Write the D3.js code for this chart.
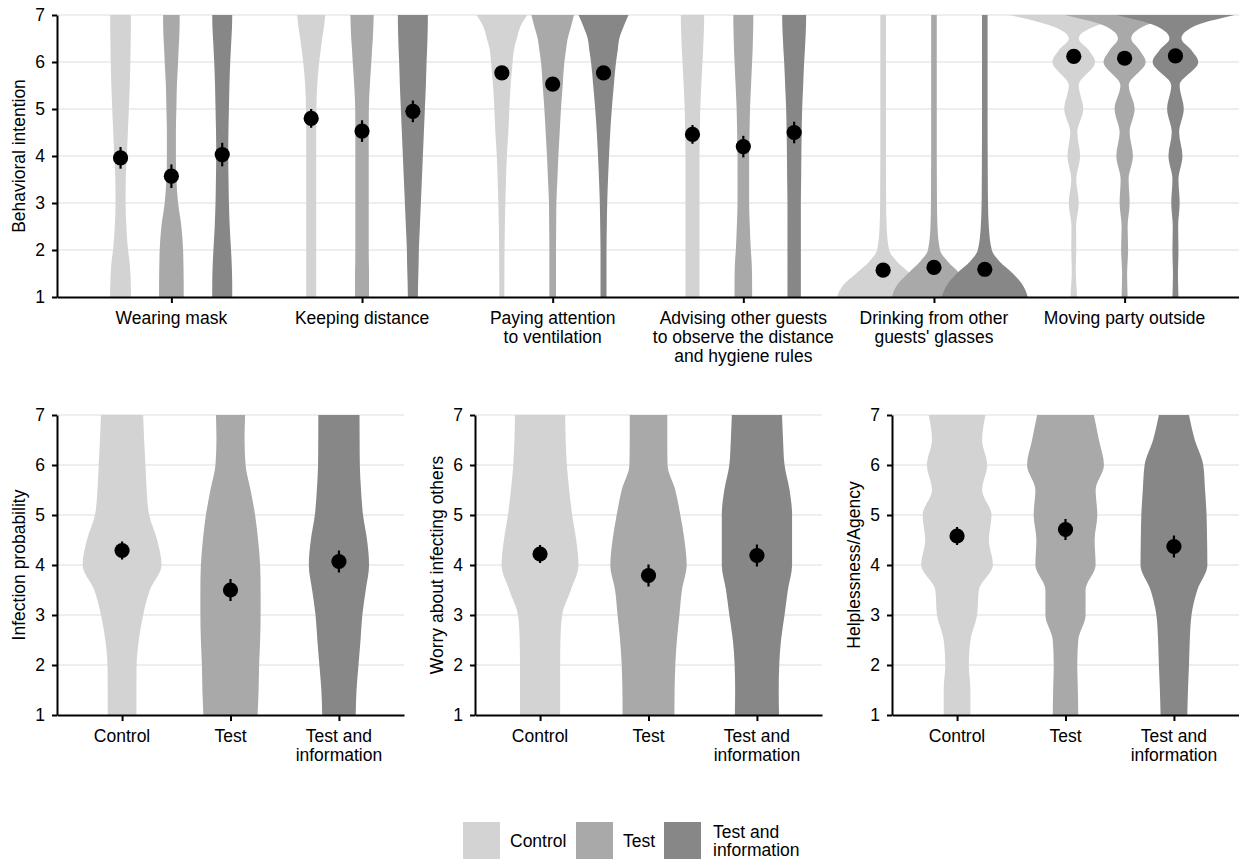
<!DOCTYPE html>
<html><head><meta charset="utf-8">
<script src="https://cdn.jsdelivr.net/npm/d3@7"></script>
<style>
body{margin:0;background:#fff;}
svg text{font-family:"Liberation Sans",Arial,Helvetica,sans-serif;fill:#000;}
</style>
</head><body>
<svg id="chart" width="1239" height="859"></svg>
<script>
// ---------- DATA ----------
const groups = ["Control", "Test", "Test and information"];
const groupColors = ["#d3d3d3", "#a9a9a9", "#878787"];
const groupLabels = [["Control"], ["Test"], ["Test and", "information"]];
const yTicks = [1, 2, 3, 4, 5, 6, 7];

const behaviors = ["Wearing mask", "Keeping distance", "Paying attention to ventilation",
  "Advising other guests to observe the distance and hygiene rules",
  "Drinking from other guests' glasses", "Moving party outside"];
const behaviorLabels = [["Wearing mask"], ["Keeping distance"], ["Paying attention", "to ventilation"],
  ["Advising other guests", "to observe the distance", "and hygiene rules"],
  ["Drinking from other", "guests' glasses"], ["Moving party outside"]];
const behaviorTitle = "Behavioral intention";
// means per behavior: [Control, Test, Test and information]
const behaviorMeans = [[3.96, 3.57, 4.03], [4.80, 4.53, 4.95], [5.77, 5.53, 5.77],
  [4.46, 4.20, 4.50], [1.57, 1.63, 1.59], [6.12, 6.08, 6.13]];
const behaviorCI = [[0.23, 0.25, 0.25], [0.20, 0.23, 0.23], [0.14, 0.14, 0.14],
  [0.20, 0.23, 0.23], [0.12, 0.12, 0.12], [0.12, 0.12, 0.12]];
// violin density (relative width) evaluated at these rating values
const densityGridTop = [1, 1.25, 1.5, 1.75, 2, 2.5, 3, 3.5, 4, 4.5, 5, 5.5, 6, 6.25, 6.5, 6.75, 7];
const densityWearingMask = [
  [10.5, 10.3, 9.8, 9, 7.5, 5.8, 5, 5.2, 6.3, 7.3, 8.3, 9.2, 9.8, 10, 10.2, 10.3, 10.3],
  [12.3, 12.3, 12.2, 12, 11.7, 10, 6.7, 5, 4.5, 4.5, 5, 5.5, 6.7, 7.2, 7.8, 8.2, 8.3],
  [10, 10, 9.8, 9.4, 8.8, 7.5, 6.7, 6.3, 6, 6.2, 6.7, 7.2, 8, 8.6, 9.2, 9.8, 10]];
const densityKeepingDistance = [
  [5, 5, 5, 5, 5, 5, 5, 5, 5, 5, 5.2, 6, 8, 9.5, 11, 12.8, 14],
  [7, 7, 7, 6.8, 6.7, 6.7, 6.7, 6.7, 6.7, 6.7, 6.8, 7.8, 9.3, 10, 10.8, 11.3, 11.7],
  [5, 5.2, 5.5, 5.8, 6, 7, 8, 9, 10, 11, 12, 13, 13.7, 14.2, 14.6, 14.9, 15]];
const densityVentilation = [
  [2.5, 2.5, 2.6, 2.6, 2.7, 3, 3.5, 4.2, 5, 6.5, 7.5, 8.8, 10.8, 12, 15, 18.5, 25.3],
  [3.3, 3.3, 3.3, 3.3, 3.3, 3.5, 3.7, 4.7, 5.7, 7, 8.3, 10, 11.7, 13.3, 15, 18.3, 21.3],
  [3, 3, 3, 3, 3, 3.3, 3.7, 4.5, 5.5, 6.7, 8.3, 10.3, 12.5, 14.2, 15.8, 20, 25]];
const densityAdvising = [
  [7, 7, 7, 7, 7, 7, 7, 7, 7, 7.3, 7.8, 8.8, 10, 10.6, 11.1, 11.5, 11.7],
  [8.8, 8.8, 8.7, 8.3, 7.5, 6.5, 5.8, 5.8, 5.8, 6.2, 6.7, 7.7, 8.8, 9.3, 9.6, 9.9, 10],
  [6.7, 6.7, 6.7, 6.7, 6.7, 6.7, 6.7, 7, 7.2, 7.5, 8, 9, 10, 10.7, 11.3, 11.8, 12]];
const densityDrinking = [
  [46, 40, 27, 14, 6, 3.5, 3, 2.9, 2.8, 2.8, 2.8, 2.8, 2.8, 2.8, 2.8, 2.8, 2.8],
  [42, 37, 26, 14, 6, 3.5, 3, 2.9, 2.8, 2.8, 2.8, 2.8, 2.8, 2.8, 2.8, 2.8, 2.8],
  [43, 38, 28, 15, 7, 4, 3.2, 3, 2.9, 2.8, 2.8, 2.8, 2.8, 2.8, 2.8, 2.8, 2.8]];
const densityOutside = [
  [3.3, 2.6, 2, 2.2, 2.5, 2.3, 5, 2.5, 6.3, 3.5, 9.5, 5, 21.3, 15, 5, 20, 64],
  [3, 2.7, 2.5, 3, 3.5, 3, 5, 4, 8.3, 5, 10, 4.2, 21, 15, 6.7, 18, 60],
  [3, 2.7, 2.5, 2.8, 3, 2.7, 4.2, 3, 7, 3.7, 8.3, 4.2, 22.8, 16, 6, 17.7, 59]];
const behaviorDensity = [densityWearingMask, densityKeepingDistance, densityVentilation,
  densityAdvising, densityDrinking, densityOutside];

const outcomes = ["Infection probability", "Worry about infecting others", "Helplessness/Agency"];
const outcomeMeans = [[4.29, 3.50, 4.07], [4.22, 3.79, 4.19], [4.58, 4.71, 4.37]];
const outcomeCI = [[0.18, 0.22, 0.22], [0.18, 0.22, 0.22], [0.18, 0.21, 0.22]];
const densityGridBottom = [1, 1.5, 2, 2.5, 3, 3.5, 4, 4.5, 5, 5.5, 6, 6.5, 7];
const densityInfection = [
  [14.3, 14.3, 14.5, 16.7, 21, 27.7, 39.3, 35, 27, 24.5, 23.3, 22, 21],
  [27, 28, 28.5, 29.5, 30, 30, 29.5, 27.5, 24.5, 20, 15, 14, 14.5],
  [16.7, 17.5, 19.5, 21.5, 23.3, 26.7, 30, 28, 24, 22, 20.8, 20.6, 20.5]];
const densityWorry = [
  [20, 20, 20, 20.3, 22, 30.7, 38.3, 36, 32, 29, 26.7, 25.5, 25],
  [25.8, 26, 26.7, 28.3, 30.8, 33.3, 38, 35.8, 31.7, 26.7, 19, 18.7, 18.7],
  [22, 21.7, 22.2, 24, 27.5, 30.8, 35, 35, 35, 32.5, 27.5, 26, 25]];
const densityHelplessness = [
  [13.3, 13.3, 11.7, 13.3, 20, 21.7, 35.7, 31.7, 34.3, 25, 30, 25, 28.3],
  [12.7, 12.3, 11.7, 12.7, 20, 20, 30, 29, 31.7, 30, 38.3, 33.3, 28.3],
  [13.3, 14, 15, 15.8, 17.5, 23.3, 33.3, 33, 32.5, 31, 29.2, 20.8, 15]];
const outcomeDensity = [densityInfection, densityWorry, densityHelplessness];

// ---------- DRAWING ----------
const svg = d3.select("#chart");
const FS = 17.5;
const gridColor = "#dedede";

function violinArea(cx, y, w) {
  return d3.area().curve(d3.curveMonotoneY)
    .y(d => y(d[0])).x0(d => cx - w(d[1])).x1(d => cx + w(d[1]));
}

function drawYAxis(g, y, x0, x1, title) {
  g.append("g").selectAll("line").data(yTicks.slice(1)).join("line")
    .attr("x1", x0).attr("x2", x1).attr("y1", d => y(d)).attr("y2", d => y(d))
    .attr("stroke", gridColor).attr("stroke-width", 1.2);
  const ax = g.append("g").attr("transform", `translate(${x0},0)`)
    .call(d3.axisLeft(y).tickValues(yTicks).tickFormat(d3.format("d")).tickSize(5).tickSizeOuter(0).tickPadding(7));
  ax.select(".domain").attr("stroke", "#000").attr("stroke-width", 2);
  ax.selectAll(".tick line").attr("stroke", "#000").attr("stroke-width", 2);
  ax.selectAll(".tick text").attr("font-size", FS).attr("font-family", null).attr("fill", "#000");
  const [ya, yb] = y.range();
  g.append("text").attr("transform", `translate(${x0 - 38},${(ya + yb) / 2}) rotate(-90)`)
    .attr("text-anchor", "middle").attr("dominant-baseline", "central")
    .attr("font-size", FS).text(title);
}

function drawXAxis(g, x, yPos, labels) {
  const ax = g.append("g").attr("transform", `translate(0,${yPos})`)
    .call(d3.axisBottom(x).tickSize(6).tickSizeOuter(0).tickFormat(""));
  ax.select(".domain").attr("stroke", "#000").attr("stroke-width", 2);
  ax.selectAll(".tick line").attr("stroke", "#000").attr("stroke-width", 2);
  const dom = x.domain();
  dom.forEach((d, i) => {
    const t = g.append("text").attr("x", x(d)).attr("y", yPos + 27)
      .attr("text-anchor", "middle").attr("font-size", FS);
    labels[i].forEach((line, j) => {
      t.append("tspan").attr("x", x(d)).attr("dy", j === 0 ? 0 : 19).text(line);
    });
  });
}

function drawMeans(g, cxs, y, means, cis) {
  means.forEach((m, i) => {
    g.append("line").attr("x1", cxs[i]).attr("x2", cxs[i])
      .attr("y1", y(m - cis[i])).attr("y2", y(m + cis[i]))
      .attr("stroke", "#000").attr("stroke-width", 2.2);
    g.append("circle").attr("cx", cxs[i]).attr("cy", y(m)).attr("r", 7.6).attr("fill", "#000");
  });
}

// Top panel
{
  const g = svg.append("g");
  const y = d3.scaleLinear().domain([1, 7]).range([297, 15]);
  const x = d3.scalePoint().domain(behaviors).range([57, 1239]).padding(0.6);
  const dodge = d3.scalePoint().domain(groups).range([-x.step() * 0.8 / 3, x.step() * 0.8 / 3]);
  const w = d3.scaleLinear().domain([0, 190.6]).range([0, x.step()]);
  drawYAxis(g, y, 57, 1239, behaviorTitle);
  const vg = g.append("g");
  behaviors.forEach((b, bi) => {
    groups.forEach((grp, gi) => {
      const cx = x(b) + dodge(grp);
      const pts = densityGridTop.map((v, k) => [v, behaviorDensity[bi][gi][k]]);
      vg.append("path").attr("d", violinArea(cx, y, w)(pts)).attr("fill", groupColors[gi]);
    });
  });
  drawXAxis(g, x, 297, behaviorLabels);
  behaviors.forEach((b, bi) => {
    drawMeans(g, groups.map(grp => x(b) + dodge(grp)), y, behaviorMeans[bi], behaviorCI[bi]);
  });
}

// Bottom panels
const bottomRanges = [[57, 404], [475, 822], [892, 1239]];
outcomes.forEach((o, oi) => {
  const g = svg.append("g");
  const y = d3.scaleLinear().domain([1, 7]).range([715, 415]);
  const x = d3.scalePoint().domain(groups).range(bottomRanges[oi]).padding(0.6);
  const w = d3.scaleLinear().domain([0, 108]).range([0, x.step()]);
  drawYAxis(g, y, bottomRanges[oi][0], bottomRanges[oi][1], o);
  groups.forEach((grp, gi) => {
    const pts = densityGridBottom.map((v, k) => [v, outcomeDensity[oi][gi][k]]);
    g.append("path").attr("d", violinArea(x(grp), y, w)(pts)).attr("fill", groupColors[gi]);
  });
  drawXAxis(g, x, 715, groupLabels);
  drawMeans(g, groups.map(grp => x(grp)), y, outcomeMeans[oi], outcomeCI[oi]);
});

// Legend
{
  const lg = svg.append("g");
  const keyX = [463, 576, 664];
  const labX = [510, 623, 713];
  groups.forEach((grp, i) => {
    lg.append("rect").attr("x", keyX[i]).attr("y", 822).attr("width", 37).attr("height", 37)
      .attr("fill", groupColors[i]);
    const t = lg.append("text").attr("x", labX[i]).attr("font-size", FS);
    const lines = groupLabels[i];
    const y0 = lines.length === 1 ? 847 : 838;
    lines.forEach((line, j) => t.append("tspan").attr("x", labX[i]).attr("y", y0 + j * 18).text(line));
  });
}
</script>
</body></html>
